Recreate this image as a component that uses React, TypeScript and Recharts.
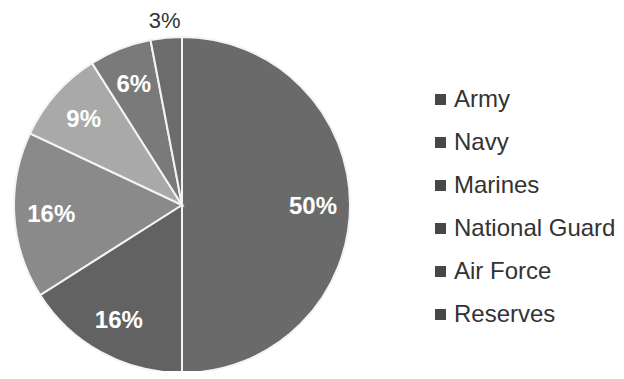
import { PieChart, Pie, Cell, Legend } from "recharts";

const branches = ["Army", "Navy", "Marines", "National Guard", "Air Force", "Reserves"];
const shares = [50, 16, 16, 9, 6, 3];
const sliceColors = ["#6a6a6a", "#626262", "#8a8a8a", "#a9a9a9", "#7a7a7a", "#6c6c6c"];

const data = branches.map((name, i) => ({ name, value: shares[i] }));
const total = shares.reduce((a, b) => a + b, 0);

const RAD = Math.PI / 180;

function renderLabel(props: any) {
  const { cx, cy, midAngle, outerRadius, value, index } = props;
  const pct = Math.round((value / total) * 100) + "%";
  const outside = value < 5;
  const r = outside ? outerRadius + 17 : outerRadius * 0.78;
  const x = cx + r * Math.cos(-midAngle * RAD);
  const y = cy + r * Math.sin(-midAngle * RAD);
  return (
    <text
      key={`lbl-${index}`}
      x={x}
      y={y}
      textAnchor="middle"
      dominantBaseline="central"
      fill={outside ? "#333" : "#fff"}
      fontSize={outside ? 22 : 24}
      fontWeight={outside ? 400 : 700}
      fontFamily="'Liberation Sans', Arial, sans-serif"
    >
      {pct}
    </text>
  );
}

function LegendList() {
  return (
    <div style={{ fontFamily: "'Liberation Sans', Arial, sans-serif" }}>
      {branches.map((b) => (
        <div key={b} style={{ height: 43, display: "flex", alignItems: "center" }}>
          <span
            style={{
              width: 11,
              height: 11,
              background: "#474747",
              display: "inline-block",
              marginRight: 8,
              marginTop: 2,
            }}
          />
          <span style={{ fontSize: 24, color: "#333", whiteSpace: "nowrap" }}>{b}</span>
        </div>
      ))}
    </div>
  );
}

export default function App() {
  return (
    <div style={{ margin: -8, width: 624, height: 379, background: "#fff" }}>
      <PieChart width={624} height={379} margin={{ top: 0, right: 0, bottom: 0, left: 0 }}>
        <Pie
          data={data}
          dataKey="value"
          nameKey="name"
          cx={182}
          cy={205}
          outerRadius={168}
          startAngle={90}
          endAngle={-270}
          stroke="#f4f4f4"
          strokeWidth={2}
          label={renderLabel}
          labelLine={false}
          isAnimationActive={false}
        >
          {data.map((d, i) => (
            <Cell key={d.name} fill={sliceColors[i]} />
          ))}
        </Pie>
        <Legend
          content={<LegendList />}
          wrapperStyle={{ left: 435, top: 77, width: 189 }}
        />
      </PieChart>
    </div>
  );
}
